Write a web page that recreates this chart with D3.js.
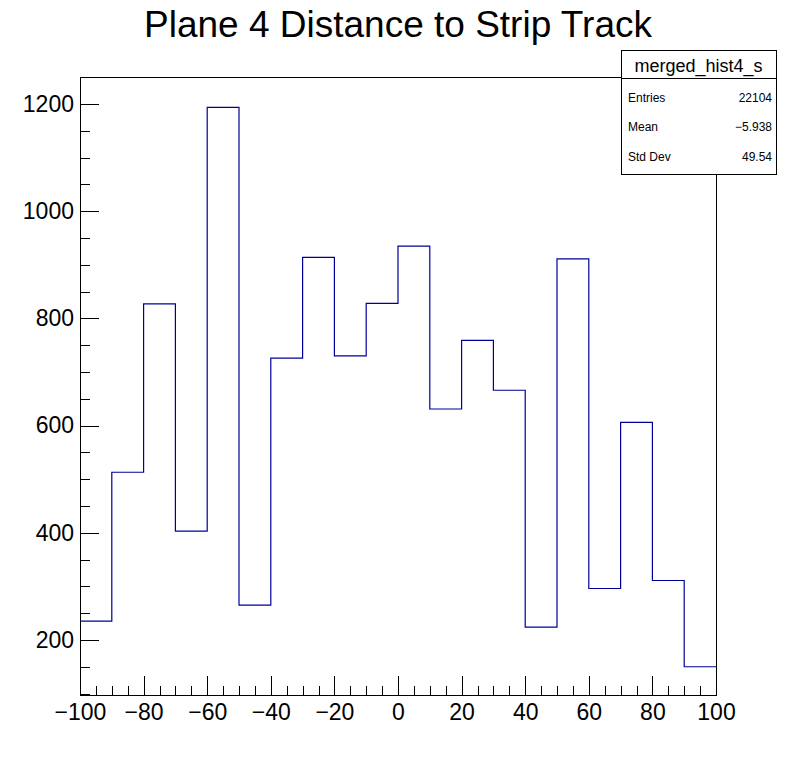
<!DOCTYPE html>
<html>
<head>
<meta charset="UTF-8">
<title>Plane 4 Distance to Strip Track</title>
<script src="https://cdn.jsdelivr.net/npm/d3@7"></script>
<style>
    body { margin: 0; background: #fff; }
    svg { font-family: "Liberation Sans", Arial, sans-serif; }
</style>
</head>
<body>
<div id="chart"></div>
<script>
    // histogram contents
    var binEdges = [-100, -90, -80, -70, -60, -50, -40, -30, -20, -10, 0,
                    10, 20, 30, 40, 50, 60, 70, 80, 90, 100];
    var counts = [235, 513, 827, 403, 1194, 265, 726, 914, 730, 828,
                  935, 631, 759, 666, 224, 911, 296, 606, 311, 150];
    var xTicks = [-100, -80, -60, -40, -20, 0, 20, 40, 60, 80, 100];
    var yTicks = [200, 400, 600, 800, 1000, 1200];
    var statsLabels = ["Entries", "Mean", "Std Dev"];
    var statsValues = ["22104", "\u22125.938", "49.54"];
    var histName = "merged_hist4_s";
    var title = "Plane 4 Distance to Strip Track";

    var width = 796, height = 772;
    var frame = {left: 80, right: 716, top: 77, bottom: 695};

    var svg = d3.select("#chart").append("svg")
            .attr("width", width)
            .attr("height", height);

    var x = d3.scaleLinear().domain([-100, 100]).range([frame.left, frame.right]);
    var y = d3.scaleLinear().domain([97.3, 1250.5]).range([frame.bottom, frame.top]);

    function fmt(d) {
        return d < 0 ? "\u2212" + Math.abs(d) : String(d);
    }

    // minor ticks first, majors with labels on top
    svg.append("g")
        .attr("transform", "translate(" + frame.left + ",0)")
        .call(d3.axisLeft(y).tickValues(d3.range(100, 1251, 50))
            .tickSizeInner(-9.5).tickSizeOuter(0).tickFormat(""));
    svg.append("g")
        .attr("class", "yaxis")
        .attr("transform", "translate(" + frame.left + ",0)")
        .call(d3.axisLeft(y).tickValues(yTicks)
            .tickSizeInner(-19).tickSizeOuter(0).tickPadding(6).tickFormat(fmt));

    svg.append("g")
        .attr("transform", "translate(0," + frame.bottom + ")")
        .call(d3.axisBottom(x).tickValues(d3.range(-100, 101, 5))
            .tickSizeInner(-9.5).tickSizeOuter(0).tickFormat(""));
    svg.append("g")
        .attr("class", "xaxis")
        .attr("transform", "translate(0," + frame.bottom + ")")
        .call(d3.axisBottom(x).tickValues(xTicks)
            .tickSizeInner(-19).tickSizeOuter(0).tickPadding(8.5).tickFormat(fmt));

    svg.selectAll(".domain").remove();
    svg.selectAll(".tick line").attr("stroke", "#000").attr("shape-rendering", "crispEdges");
    svg.selectAll(".yaxis text, .xaxis text")
        .attr("fill", "#000")
        .style("font-size", "23px")
        .style("font-family", "'Liberation Sans', Arial, sans-serif");

    // histogram outline
    var pts = counts.map(function(c, i){ return [binEdges[i], c]; });
    pts.push([binEdges[binEdges.length - 1], counts[counts.length - 1]]);
    var line = d3.line()
            .x(function(d){ return x(d[0]); })
            .y(function(d){ return y(d[1]); })
            .curve(d3.curveStepAfter);
    svg.append("path")
        .datum(pts)
        .attr("d", line)
        .attr("fill", "none")
        .attr("stroke", "#000099")
        .attr("stroke-width", 1.2);

    // frame
    svg.append("rect")
        .attr("x", frame.left)
        .attr("y", frame.top)
        .attr("width", frame.right - frame.left)
        .attr("height", frame.bottom - frame.top)
        .attr("fill", "none")
        .attr("stroke", "#000")
        .attr("shape-rendering", "crispEdges");

    svg.append("text")
        .attr("x", 398)
        .attr("y", 37)
        .attr("text-anchor", "middle")
        .style("font-size", "37px")
        .text(title);

    // stats box
    var box = {left: 621, right: 776, top: 50, bottom: 174, head: 78};
    var stats = svg.append("g");
    stats.append("rect")
        .attr("x", box.left)
        .attr("y", box.top)
        .attr("width", box.right - box.left)
        .attr("height", box.bottom - box.top)
        .attr("fill", "#fff")
        .attr("stroke", "#000")
        .attr("shape-rendering", "crispEdges");
    stats.append("line")
        .attr("x1", box.left).attr("x2", box.right)
        .attr("y1", box.head).attr("y2", box.head)
        .attr("stroke", "#000")
        .attr("shape-rendering", "crispEdges");
    stats.append("text")
        .attr("x", (box.left + box.right) / 2)
        .attr("y", 72)
        .attr("text-anchor", "middle")
        .style("font-size", "18px")
        .text(histName);

    var rowY = d3.scalePoint().domain(statsLabels).range([101.5, 161]);
    stats.selectAll("text.lab")
        .data(statsLabels)
        .enter().append("text")
        .attr("class", "lab")
        .attr("x", box.left + 7)
        .attr("y", function(d){ return rowY(d); })
        .style("font-size", "12px")
        .text(function(d){ return d; });
    stats.selectAll("text.val")
        .data(statsValues)
        .enter().append("text")
        .attr("class", "val")
        .attr("x", box.right - 4)
        .attr("y", function(d, i){ return rowY(statsLabels[i]); })
        .attr("text-anchor", "end")
        .style("font-size", "12px")
        .text(function(d){ return d; });
</script>
</body>
</html>
